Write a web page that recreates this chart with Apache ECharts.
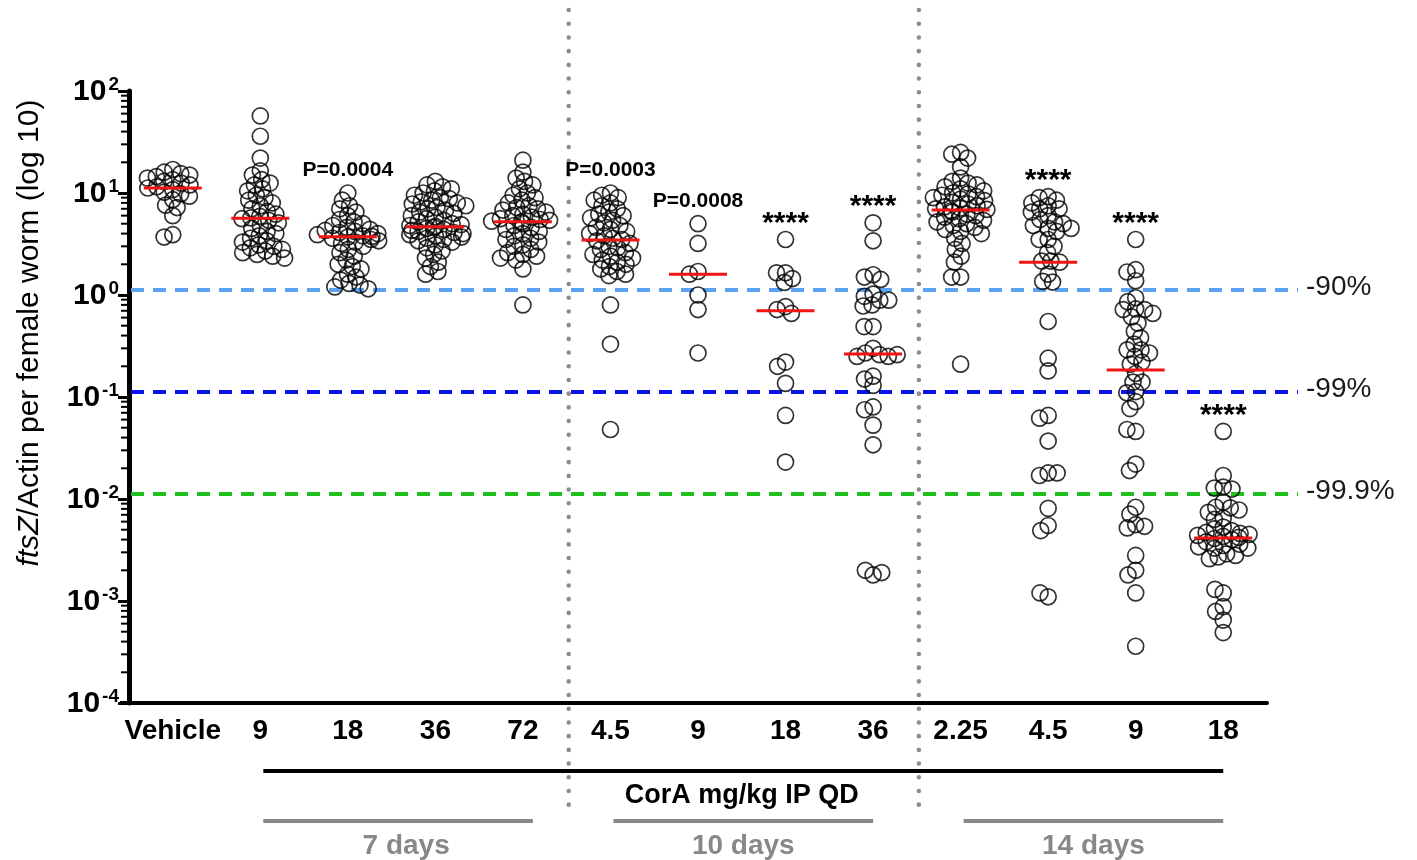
<!DOCTYPE html>
<html><head><meta charset="utf-8">
<script src="https://cdn.jsdelivr.net/npm/echarts@6/dist/echarts.min.js"></script>
<style>html,body{margin:0;padding:0;background:#fff}#c{width:1417px;height:860px}</style>
</head><body><div id="c"></div>
<script>
const FONT = "'Liberation Sans', Arial, sans-serif";
const categories = ['Vehicle','9','18','36','72','4.5','9','18','36','2.25','4.5','9','18'];

const vehicle = [17,16,15.5,15,14.5,14,13.5,13,12.5,12,11.5,11.2,10.8,10.2,9.8,9.3,8.6,7.6,7.2,6.0,3.9,3.7];
const d7_9 = [57,36,22,16.5,15,13.5,12.5,12,11,10.5,9.5,9,8.5,8,7.5,7,6.6,6.2,5.9,5.7,5.6,5.4,5.1,4.8,4.5,4.2,4,3.8,3.6,3.4,3.3,3.1,3.0,2.9,2.8,2.7,2.6,2.5,2.4,2.3];
const d7_18 = [10,8.5,7.5,7,6.5,6,5.5,5.2,5,4.8,4.6,4.4,4.3,4.2,4.1,4,3.9,3.8,3.75,3.7,3.6,3.5,3.4,3.3,3.2,3.0,2.8,2.6,2.4,2.2,2.0,1.9,1.8,1.6,1.5,1.4,1.3,1.25,1.2,1.15];
const d7_36 = [13,12,11.5,11,10.5,10,9.5,9,8.8,8.5,8.2,8,7.8,7.5,7.2,7,6.8,6.5,6.3,6,5.8,5.6,5.4,5.2,5.0,4.9,4.8,4.7,4.6,4.5,4.4,4.3,4.2,4.1,4.0,3.9,3.8,3.7,3.6,3.5,3.4,3.3,3.1,2.9,2.7,2.5,2.3,2.1,1.9,1.7,1.6];
const d7_72 = [21,16,14,13,12,11,10,9.5,9,8.5,8,7.5,7.2,7,6.8,6.5,6.2,6,5.8,5.6,5.5,5.4,5.3,5.2,5,4.8,4.6,4.4,4.2,4,3.8,3.6,3.5,3.3,3.1,3.0,2.8,2.6,2.5,2.4,2.3,2.2,1.8,0.8];
const d10_4_5 = [10,9.5,9,8.5,8,7.5,7,6.5,6.2,6,5.7,5.4,5.1,4.8,4.6,4.4,4.2,4.0,3.8,3.6,3.5,3.4,3.2,3.0,2.9,2.8,2.6,2.5,2.4,2.3,2.2,2.1,2.0,1.9,1.8,1.7,1.6,1.55,0.8,0.33,0.048];
const d10_9 = [5.0,3.2,1.7,1.6,1.0,0.72,0.27];
const d10_18 = [3.5,1.65,1.65,1.45,1.33,0.77,0.72,0.66,0.22,0.2,0.136,0.066,0.023];
const d10_36 = [5.1,3.4,1.58,1.5,1.42,1.02,0.97,0.89,0.89,0.8,0.78,0.49,0.49,0.30,0.27,0.26,0.25,0.25,0.26,0.16,0.15,0.13,0.08,0.075,0.053,0.034,0.0018,0.0020,0.0019];
const d14_2_25 = [25,24,22,18,14,13,12.5,12,11.5,11,10.5,10,9.8,9.5,9.2,9,8.7,8.4,8.1,7.8,7.5,7.3,7.1,7,6.9,6.7,6.5,6.2,6,5.8,5.6,5.4,5.2,5,4.8,4.6,4.4,4.2,4,3.6,3.2,2.8,2.4,2.1,1.5,1.5,0.21];
const d14_4_5 = [9.2,9.0,8.5,8,7.5,7,7,6.5,6,5.5,5.2,5,4.8,4.5,4.5,4.2,3.5,3.5,3.0,2.6,2.15,2.15,2.1,1.6,1.36,1.34,0.55,0.24,0.18,0.066,0.062,0.037,0.018,0.017,0.018,0.0081,0.0055,0.0049,0.0011,0.0012];
const d14_9 = [3.5,1.77,1.68,1.38,0.94,0.86,0.73,0.72,0.72,0.66,0.61,0.53,0.44,0.38,0.33,0.29,0.29,0.27,0.25,0.22,0.21,0.17,0.14,0.14,0.113,0.11,0.09,0.077,0.046,0.048,0.022,0.019,0.0083,0.0071,0.0056,0.0052,0.0054,0.0028,0.0020,0.0018,0.0012,0.00036];
const d14_18 = [0.046,0.017,0.0131,0.0128,0.0125,0.0093,0.0083,0.0082,0.0078,0.0074,0.0065,0.0063,0.0053,0.0051,0.0049,0.0047,0.0046,0.0045,0.0044,0.0043,0.0042,0.0041,0.0040,0.0038,0.0036,0.0035,0.0034,0.0033,0.0033,0.0029,0.0028,0.0027,0.0026,0.0012,0.0013,0.00088,0.00079,0.00065,0.00049];

const medians = [11.2,5.65,3.73,4.68,5.24,3.46,1.6,0.70,0.264,6.8,2.09,0.184,0.00415];

const refValues = [1.12, 0.112, 0.0112];
const refLabels = ['-90%', '-99%', '-99.9%'];
const refColors = ['#5ba3f2', '#0a14e6', '#1fbf1f'];

const annotIdx = [2,5,6,7,8,10,11,12];
const annotText = ['P=0.0004','P=0.0003','P=0.0008','****','****','****','****','****'];

const separators = [4, 8];           // dotted line between category i and i+1
const spanStart = [1, 5, 9];
const spanEnd = [4, 8, 12];
const spanLabels = ['7 days', '10 days', '14 days'];
const yTicksMinor = [];
for (let e = -4; e < 2; e++) for (let m = 2; m <= 9; m++) yTicksMinor.push(m * Math.pow(10, e));

const groups = [vehicle,d7_9,d7_18,d7_36,d7_72,d10_4_5,d10_9,d10_18,d10_36,d14_2_25,d14_4_5,d14_9,d14_18];
const points = [];
groups.forEach((g, i) => g.forEach(v => points.push([i, v])));

const chart = echarts.init(document.getElementById('c'));
chart.setOption({
  animation: false,
  backgroundColor: '#fff',
  grid: { left: 129, right: 150, top: 91, bottom: 157, containLabel: false },
  xAxis: {
    type: 'category',
    data: categories.map((c, i) => String(i)),
    boundaryGap: true,
    jitter: 64,
    jitterOverlap: false,
    jitterMargin: -7,
    axisLine: { lineStyle: { color: '#000', width: 4 } },
    axisTick: { alignWithLabel: true, length: 8, lineStyle: { color: '#000', width: 3 } },
    axisLabel: {
      formatter: (v, i) => categories[i],
      color: '#000', fontSize: 28, fontWeight: 'bold', fontFamily: FONT, margin: 14, interval: 0
    },
    splitLine: { show: false }
  },
  yAxis: {
    type: 'log', logBase: 10, min: 1e-4, max: 100, splitNumber: 6,
    axisLine: { show: true, lineStyle: { color: '#000', width: 5 } },
    axisTick: { show: true, length: 11, lineStyle: { color: '#000', width: 3 } },
    splitLine: { show: false },
    axisLabel: {
      margin: 10,
      formatter: v => '{b|10}{s|' + Math.round(Math.log10(v)) + '}',
      rich: {
        b: { fontSize: 30, fontWeight: 'bold', fontFamily: FONT, color: '#000', lineHeight: 32, verticalAlign: 'bottom' },
        s: { fontSize: 19, fontWeight: 'bold', fontFamily: FONT, color: '#000', lineHeight: 19, verticalAlign: 'top', padding: [0, 0, 0, 2] }
      }
    }
  },
  series: [
    {
      type: 'custom', z: 1, silent: true,
      data: yTicksMinor.map(v => [0, v]),
      renderItem: (params, api) => {
        const p = api.coord([0, api.value(1)]);
        const x0 = params.coordSys.x;
        return { type: 'line', shape: { x1: x0 - 8, y1: p[1], x2: x0, y2: p[1] }, style: { stroke: '#000', lineWidth: 2 } };
      }
    },
    {
      type: 'custom', z: 2, silent: true,
      data: refValues.map((v, i) => [0, v, i]),
      renderItem: (params, api) => {
        const i = api.value(2);
        const p = api.coord([0, api.value(1)]);
        const cs = params.coordSys;
        return { type: 'group', children: [
          { type: 'line', shape: { x1: cs.x + 2, y1: p[1], x2: cs.x + cs.width + 31, y2: p[1] },
            style: { stroke: refColors[i], lineWidth: 4, lineDash: [13, 9] } },
          { type: 'text', x: cs.x + cs.width + 39, y: p[1] - 3,
            style: { text: refLabels[i], fill: '#1a1a1a', font: '28px ' + FONT, align: 'left', verticalAlign: 'middle' } }
        ] };
      }
    },
    {
      type: 'custom', z: 2, silent: true,
      data: separators.map(s => [s, 1]),
      renderItem: (params, api) => {
        const s = api.value(0);
        const a = api.coord([s, 1]), b = api.coord([s + 1, 1]);
        const x = (a[0] + b[0]) / 2 + 2;
        return { type: 'line', shape: { x1: x, y1: 10, x2: x, y2: 818 },
          style: { stroke: '#8c8c8c', lineWidth: 4.5, lineDash: [0.1, 13.6], lineCap: 'round' } };
      }
    },
    {
      type: 'scatter', z: 5, silent: true,
      data: points,
      symbol: 'circle', symbolSize: 16,
      itemStyle: { color: 'rgba(255,255,255,0)', borderColor: '#000', borderWidth: 1.7 }
    },
    {
      type: 'custom', z: 8, silent: true,
      data: medians.map((m, i) => [i, m]),
      renderItem: (params, api) => {
        const p = api.coord([api.value(0), api.value(1)]);
        return { type: 'line', shape: { x1: p[0] - 29, y1: p[1], x2: p[0] + 29, y2: p[1] },
          style: { stroke: '#f01414', lineWidth: 3 } };
      }
    }
  ]
});

// annotations and bottom brackets
const px = i => chart.convertToPixel({ xAxisIndex: 0 }, i);
const py = v => chart.convertToPixel({ yAxisIndex: 0 }, v);
const g = [];
annotIdx.forEach((idx, k) => {
  const top = py(Math.max.apply(null, groups[idx]));
  const isStar = annotText[k].indexOf('*') === 0;
  g.push({ type: 'text', x: px(idx), y: isStar ? top - 16 : top - 23, z: 20,
    style: { text: annotText[k], fill: '#000', align: 'center', verticalAlign: 'middle',
      font: (isStar ? 'bold 30px ' : 'bold 21px ') + FONT } });
});
g.push({ type: 'line', z: 20, shape: { x1: px(spanStart[0]) + 3, y1: 771, x2: px(spanEnd[spanEnd.length - 1]), y2: 771 },
  style: { stroke: '#000', lineWidth: 4 } });
g.push({ type: 'line', z: 20, shape: { x1: 120, y1: 703, x2: 130, y2: 703 }, style: { stroke: '#000', lineWidth: 4 } });
g.push({ type: 'text', z: 20, x: (px(spanStart[0]) + px(spanEnd[spanEnd.length - 1])) / 2, y: 796,
  style: { text: 'CorA mg/kg IP QD', fill: '#000', font: 'bold 27px ' + FONT, align: 'center', verticalAlign: 'middle' } });
spanStart.forEach((s, k) => {
  const x1 = px(s) + 3, x2 = px(spanEnd[k]) + (k === 0 ? 10 : 0);
  g.push({ type: 'line', z: 20, shape: { x1: x1, y1: 821, x2: x2, y2: 821 }, style: { stroke: '#888', lineWidth: 4 } });
  g.push({ type: 'text', z: 20, x: (x1 + x2) / 2 + (k === 0 ? 8 : 0), y: 846,
    style: { text: spanLabels[k], fill: '#888', font: 'bold 28px ' + FONT, align: 'center', verticalAlign: 'middle' } });
});
g.push({ type: 'text', z: 20, x: 30, y: 333, rotation: Math.PI / 2,
  style: { text: '{i|ftsZ}{n|/Actin per female worm (log 10)}', align: 'center', verticalAlign: 'middle', fill: '#000',
    rich: { i: { fontStyle: 'italic', fontSize: 30, fontFamily: FONT, fill: '#000' },
            n: { fontSize: 30, fontFamily: FONT, fill: '#000' } } } });
chart.setOption({ graphic: g });
</script>
</body></html>
